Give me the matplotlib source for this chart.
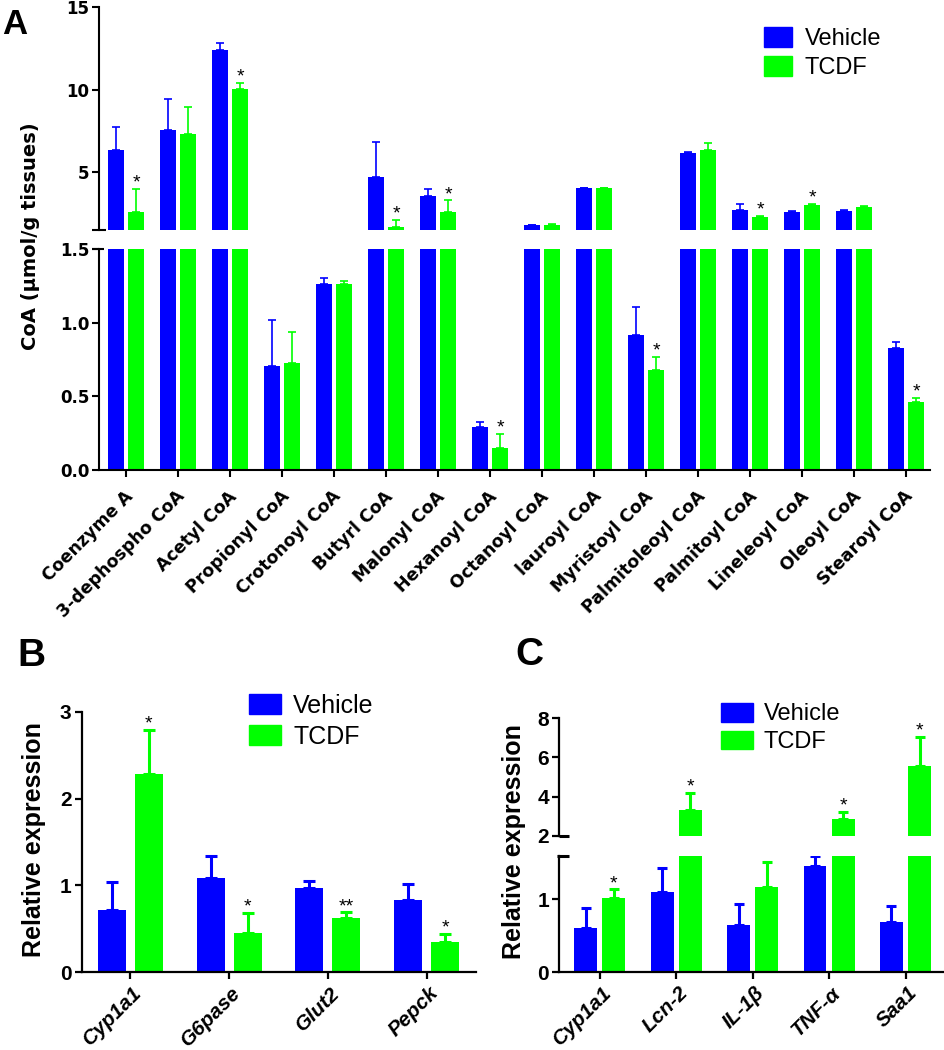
import matplotlib
matplotlib.use('Agg')
import matplotlib.pyplot as plt
import numpy as np
from matplotlib.patches import Patch
from matplotlib.transforms import ScaledTranslation

BLUE = '#0000FF'
GREEN = '#00FF00'

# ---------------- Panel A data ----------------
a_categories = ['Coenzyme A', '3-dephospho CoA', 'Acetyl CoA', 'Propionyl CoA',
                'Crotonoyl CoA', 'Butyrl CoA', 'Malonyl CoA', 'Hexanoyl CoA',
                'Octanoyl CoA', 'lauroyl CoA', 'Myristoyl CoA', 'Palmitoleoyl CoA',
                'Palmitoyl CoA', 'Lineleoyl CoA', 'Oleoyl CoA', 'Stearoyl CoA']
a_vehicle = [6.33, 7.54, 12.44, 0.706, 1.26, 4.70, 3.59, 0.294,
             1.78, 4.03, 0.918, 6.17, 2.70, 2.60, 2.68, 0.83]
a_vehicle_err = [1.39, 1.90, 0.40, 0.312, 0.04, 2.14, 0.41, 0.032,
                 0.03, 0.02, 0.191, 0.05, 0.37, 0.03, 0.04, 0.041]
a_tcdf = [2.60, 7.34, 10.04, 0.726, 1.26, 1.67, 2.60, 0.147,
          1.80, 4.02, 0.681, 6.35, 2.30, 3.03, 2.91, 0.464]
a_tcdf_err = [1.40, 1.59, 0.36, 0.211, 0.025, 0.43, 0.69, 0.095,
              0.08, 0.03, 0.088, 0.43, 0.03, 0.06, 0.02, 0.023]
a_sig = ['*', '', '*', '', '', '*', '*', '*', '', '', '*', '', '*', '*', '', '*']

# ---------------- Panel B data ----------------
b_categories = ['Cyp1a1', 'G6pase', 'Glut2', 'Pepck']
b_vehicle = [0.717, 1.08, 0.966, 0.832]
b_vehicle_err = [0.326, 0.258, 0.084, 0.184]
b_tcdf = [2.278, 0.449, 0.621, 0.352]
b_tcdf_err = [0.51, 0.237, 0.069, 0.085]
b_sig = ['*', '*', '**', '*']

# ---------------- Panel C data ----------------
c_categories = ['Cyp1a1', 'Lcn-2', 'IL-1β', 'TNF-α', 'Saa1']
c_vehicle = [0.603, 1.104, 0.648, 1.452, 0.693]
c_vehicle_err = [0.282, 0.334, 0.288, 0.14, 0.219]
c_tcdf = [1.013, 3.31, 1.173, 2.84, 5.56]
c_tcdf_err = [0.124, 0.86, 0.342, 0.39, 1.50]
c_sig = ['*', '*', '', '*', '*']

series_labels = ['Vehicle', 'TCDF']

W, H = 945, 1050
fig = plt.figure(figsize=(W / 100, H / 100), dpi=100)


def px_axes(left, right, top, bottom):
    return fig.add_axes([left / W, 1 - bottom / H, (right - left) / W, (bottom - top) / H])


def style(ax, lw=1.5):
    for s in ['top', 'right']:
        ax.spines[s].set_visible(False)
    for s in ['left', 'bottom']:
        ax.spines[s].set_linewidth(lw)
    ax.tick_params(direction='out', length=5, width=lw, colors='black')


def draw_bars(ax, x, v, ve, t, te, off, w, elw, cap):
    ax.bar(x - off, v, w, color=BLUE, zorder=2)
    ax.bar(x + off, t, w, color=GREEN, zorder=2)
    ax.errorbar(x - off, v, yerr=[np.zeros(len(ve)), ve], fmt='none', ecolor=BLUE,
                elinewidth=elw, capsize=cap, capthick=elw, zorder=1)
    ax.errorbar(x + off, t, yerr=[np.zeros(len(te)), te], fmt='none', ecolor=GREEN,
                elinewidth=elw, capsize=cap, capthick=elw, zorder=1)


def break_mark(ax, y, x0, x1, lw=1.5):
    ax.plot([x0, x1], [y, y], transform=ax.transAxes, color='black', lw=lw,
            clip_on=False, solid_capstyle='butt')


def stars(ax_lo, ax_hi, split, x, t, te, sig, off, size, fam):
    for xi, ti, ei, s in zip(x, t, te, sig):
        if not s:
            continue
        top = ti + ei
        ax = ax_hi if (ax_hi is not None and top > split) else ax_lo
        ax.annotate(s, xy=(xi + off, top), xytext=(0, 1), textcoords='offset points',
                    ha='center', va='baseline', fontsize=size, family=fam,
                    annotation_clip=False)


def shift_labels(labels, dx_px, dy_px=0):
    for lab in labels:
        lab.set_transform(lab.get_transform() +
                          ScaledTranslation(dx_px / 100, -dy_px / 100, fig.dpi_scale_trans))


AFONT = 'DejaVu Sans'
SANS = 'Liberation Sans'

# ================= Panel A =================
xa = np.arange(len(a_categories))
axA_hi = px_axes(99, 930, 7.3, 230)
axA_lo = px_axes(99, 930, 249, 470)
for ax in (axA_hi, axA_lo):
    style(ax)
    draw_bars(ax, xa, np.array(a_vehicle), np.array(a_vehicle_err), np.array(a_tcdf),
              np.array(a_tcdf_err), 0.193, 0.32, 1.2, 2.9)
    ax.set_xlim(-0.52, 15.46)
axA_hi.set_ylim(1.5, 15)
axA_lo.set_ylim(0, 1.5)
axA_hi.spines['bottom'].set_visible(False)
axA_hi.set_xticks([])
axA_hi.set_yticks([5, 10, 15])
axA_hi.set_yticklabels(['5', '10', '15'])
axA_lo.set_yticks([0, 0.5, 1.0, 1.5])
axA_lo.set_yticklabels(['0.0', '0.5', '1.0', '1.5'])
for ax in (axA_hi, axA_lo):
    ax.tick_params(axis='y', labelsize=12, pad=2)
    for lab in ax.get_yticklabels():
        lab.set_family(AFONT)
        lab.set_fontweight('bold')
axA_lo.set_xticks(xa)
axA_lo.set_xticklabels(a_categories, rotation=45, ha='right', va='top',
                       rotation_mode='anchor', fontsize=12.5, family=AFONT,
                       fontweight='bold')
axA_lo.tick_params(axis='x', pad=7.5)
shift_labels(axA_lo.get_xticklabels(), -2)
break_mark(axA_hi, 0, -0.009, 0.009)
break_mark(axA_lo, 1, -0.009, 0.006)
stars(axA_lo, axA_hi, 1.5, xa, a_tcdf, a_tcdf_err, a_sig, 0.193, 14, SANS)
fig.text(31 / W, 1 - 236 / H, 'CoA (µmol/g tissues)', rotation=90, ha='center',
         va='center', fontsize=14, family=AFONT, fontweight='bold')
handles = [Patch(color=BLUE), Patch(color=GREEN)]
axA_hi.legend(handles, series_labels, loc='upper left',
              bbox_to_anchor=(764 / W, 1 - 27 / H), bbox_transform=fig.transFigure,
              frameon=False, borderpad=0, borderaxespad=0, handlelength=1.2,
              handleheight=0.92, handletextpad=0.52, labelspacing=0.26,
              prop={'family': SANS, 'size': 17})
fig.text(2 / W, 1 - 8 / H, 'A', fontsize=25, fontweight='bold', family=SANS,
         ha='left', va='top')

# ================= Panel B =================
xb = np.arange(len(b_categories))
axB = px_axes(82, 476, 711.7, 972.3)
style(axB, lw=1.6)
draw_bars(axB, xb, np.array(b_vehicle), np.array(b_vehicle_err), np.array(b_tcdf),
          np.array(b_tcdf_err), 0.188, 0.284, 2.2, 4.3)
axB.set_xlim(-0.49, 3.5)
axB.set_ylim(0, 3)
axB.set_yticks([0, 1, 2, 3])
axB.set_yticklabels(['0', '1', '2', '3'], fontsize=15, family=SANS, fontweight='bold')
axB.tick_params(axis='y', pad=2.5)
axB.set_xticks(xb)
axB.set_xticklabels(b_categories, rotation=45, ha='right', va='top',
                    rotation_mode='anchor', fontsize=15, family=SANS,
                    fontweight='bold', style='italic')
axB.tick_params(axis='x', pad=3)
shift_labels(axB.get_xticklabels(), 2)
stars(axB, None, 0, xb, b_tcdf, b_tcdf_err, b_sig, 0.188, 14, SANS)
fig.text(34 / W, 1 - 840 / H, 'Relative expression', rotation=90, ha='center',
         va='center', fontsize=18, family=SANS, fontweight='bold')
axB.legend(handles, series_labels, loc='upper left',
           bbox_to_anchor=(249 / W, 1 - 694 / H), bbox_transform=fig.transFigure,
           frameon=False, borderpad=0, borderaxespad=0, handlelength=1.28,
           handleheight=0.84, handletextpad=0.48, labelspacing=0.26,
           prop={'family': SANS, 'size': 18})
fig.text(17 / W, 1 - 638 / H, 'B', fontsize=28, fontweight='bold', family=SANS,
         ha='left', va='top')

# ================= Panel C =================
xc = np.arange(len(c_categories))
axC_hi = px_axes(559.3, 943, 718.3, 835.7)
axC_lo = px_axes(559.3, 943, 855.7, 972.3)
for ax in (axC_hi, axC_lo):
    style(ax, lw=1.6)
    draw_bars(ax, xc, np.array(c_vehicle), np.array(c_vehicle_err), np.array(c_tcdf),
              np.array(c_tcdf_err), 0.185, 0.30, 2.2, 3.3)
    ax.set_xlim(-0.53, 4.49)
axC_hi.set_ylim(2, 8)
axC_lo.set_ylim(0, 1.6)
axC_hi.spines['bottom'].set_visible(False)
axC_hi.set_xticks([])
axC_hi.set_yticks([2, 4, 6, 8])
axC_hi.set_yticklabels(['2', '4', '6', '8'], fontsize=15, family=SANS, fontweight='bold')
axC_lo.set_yticks([0, 1])
axC_lo.set_yticklabels(['0', '1'], fontsize=15, family=SANS, fontweight='bold')
for ax in (axC_hi, axC_lo):
    ax.tick_params(axis='y', pad=2.5)
axC_lo.set_xticks(xc)
axC_lo.set_xticklabels(c_categories, rotation=45, ha='right', va='top',
                       rotation_mode='anchor', fontsize=15, family=SANS,
                       fontweight='bold', style='italic')
axC_lo.tick_params(axis='x', pad=3)
shift_labels(axC_lo.get_xticklabels(), 2)
break_mark(axC_hi, 0, 0.0, 0.026, lw=2.2)
break_mark(axC_lo, 1, -0.006, 0.026, lw=2.2)
stars(axC_lo, axC_hi, 1.6, xc, c_tcdf, c_tcdf_err, c_sig, 0.185, 14, SANS)
fig.text(514 / W, 1 - 842 / H, 'Relative expression', rotation=90, ha='center',
         va='center', fontsize=18, family=SANS, fontweight='bold')
axC_hi.legend(handles, series_labels, loc='upper left',
              bbox_to_anchor=(720.7 / W, 1 - 703 / H), bbox_transform=fig.transFigure,
              frameon=False, borderpad=0, borderaxespad=0, handlelength=1.36,
              handleheight=0.83, handletextpad=0.45, labelspacing=0.22,
              prop={'family': SANS, 'size': 17})
fig.text(515 / W, 1 - 637 / H, 'C', fontsize=28, fontweight='bold', family=SANS,
         ha='left', va='top')

fig.savefig('out.png', dpi=100)
